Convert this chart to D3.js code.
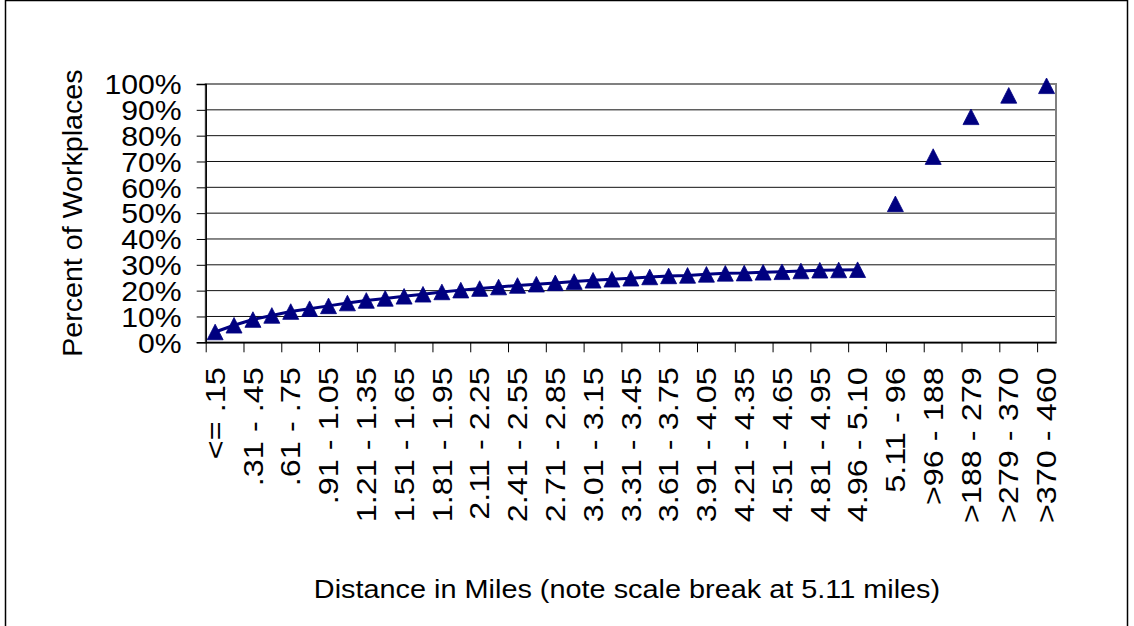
<!DOCTYPE html>
<html>
<head>
<meta charset="utf-8">
<script src="https://cdn.jsdelivr.net/npm/d3@7"></script>
<style>
  html, body { margin: 0; padding: 0; background: #fff; }
  svg { display: block; font-family: "Liberation Sans", Arial, sans-serif; }
</style>
</head>
<body>
<svg id="chart" width="1134" height="626"></svg>
<script>
// ---- data ----
const nearCategories = [
  "<= .15", ".16 - .30", ".31 - .45", ".46 - .60", ".61 - .75", ".76 - .90",
  ".91 - 1.05", "1.06 - 1.20", "1.21 - 1.35", "1.36 - 1.50", "1.51 - 1.65", "1.66 - 1.80",
  "1.81 - 1.95", "1.96 - 2.10", "2.11 - 2.25", "2.26 - 2.40", "2.41 - 2.55", "2.56 - 2.70",
  "2.71 - 2.85", "2.86 - 3.00", "3.01 - 3.15", "3.16 - 3.30", "3.31 - 3.45", "3.46 - 3.60",
  "3.61 - 3.75", "3.76 - 3.90", "3.91 - 4.05", "4.06 - 4.20", "4.21 - 4.35", "4.36 - 4.50",
  "4.51 - 4.65", "4.66 - 4.80", "4.81 - 4.95", "4.81 - 4.95 ", "4.96 - 5.10"
];
const nearValues = [
  0.040, 0.066, 0.088, 0.104, 0.119, 0.130, 0.141, 0.152, 0.162, 0.170,
  0.178, 0.186, 0.195, 0.202, 0.208, 0.214, 0.220, 0.225, 0.230, 0.235,
  0.240, 0.244, 0.248, 0.253, 0.257, 0.259, 0.263, 0.267, 0.268, 0.271,
  0.273, 0.276, 0.279, 0.280, 0.281
];
const farCategories = ["5.11 - 96", ">96 - 188", ">188 - 279", ">279 - 370", ">370 - 460"];
const farValues = [0.536, 0.719, 0.873, 0.956, 0.993];
const yTicks = [0, 0.1, 0.2, 0.3, 0.4, 0.5, 0.6, 0.7, 0.8, 0.9, 1.0];
const yTitle = "Percent of Workplaces";
const xTitle = "Distance in Miles (note scale break at 5.11 miles)";

// Category slots: near categories, then each far category preceded by an empty slot (scale break spacing)
const slots = [];
nearCategories.forEach((c, i) => slots.push({ label: c, value: nearValues[i] }));
farCategories.forEach((c, i) => { slots.push({ label: "", value: null }); slots.push({ label: c, value: farValues[i] }); });
slots.forEach((s, i) => s.i = i);

// ---- layout ----
const svg = d3.select("#chart");
const L = 205.7, R = 1056, T = 84, B = 342.3;
const font = '"Liberation Sans", Arial, sans-serif';

// outer frame
svg.append("rect").attr("x", 5.5).attr("y", 0.5).attr("width", 1122).attr("height", 700)
  .attr("fill", "none").attr("stroke", "#000").attr("stroke-width", 1.5);

const x = d3.scaleBand().domain(slots.map(d => d.i)).range([L, R]).paddingInner(0).paddingOuter(0);
const xb = d3.scaleLinear().domain([0, slots.length]).range([L, R]);
const y = d3.scaleLinear().domain([0, 1]).range([B, T]);

// gridlines
svg.append("g").selectAll("line").data(yTicks.filter(t => t > 0 && t < 1)).join("line")
  .attr("x1", L).attr("x2", R).attr("y1", d => y(d)).attr("y2", d => y(d))
  .attr("stroke", "#111").attr("stroke-width", 1);

// plot area border
svg.append("rect").attr("x", L).attr("y", T).attr("width", R - L).attr("height", B - T)
  .attr("fill", "none").attr("stroke", "#808080").attr("stroke-width", 2);

// y axis
const yAxis = svg.append("g").attr("transform", `translate(${L},0)`)
  .call(d3.axisLeft(y).tickValues(yTicks).tickFormat(d3.format(".0%")).tickSize(9).tickPadding(15));
yAxis.select(".domain").attr("stroke", "#000").attr("stroke-width", 1.5);
yAxis.selectAll(".tick line").attr("stroke", "#000");
yAxis.selectAll(".tick text").attr("font-size", 27).attr("font-family", font).attr("fill", "#000")
  .attr("x", 0).attr("dy", "0.36em")
  .attr("transform", "translate(-24,0) scale(1.12,1)");

// x axis tick marks (every two category slots)
const evenBounds = d3.range(0, slots.length, 2);
const xTickAxis = svg.append("g").attr("transform", `translate(0,${B})`)
  .call(d3.axisBottom(xb).tickValues(evenBounds).tickFormat("").tickSize(10).tickSizeOuter(0));
xTickAxis.select(".domain").attr("stroke", "#000").attr("stroke-width", 1.5);
xTickAxis.selectAll(".tick line").attr("stroke", "#000");

// x labels (every other category)
const xLabAxis = svg.append("g").attr("transform", `translate(0,${B})`)
  .call(d3.axisBottom(x).tickValues(evenBounds).tickFormat(i => slots[i].label).tickSize(0).tickPadding(0));
xLabAxis.select(".domain").remove();
xLabAxis.selectAll(".tick text")
  .attr("font-size", 27).attr("font-family", font).attr("fill", "#000")
  .attr("text-anchor", "end")
  .attr("x", 0).attr("y", 0).attr("dy", "0.36em")
  .attr("transform", "rotate(-90) translate(-25,0) scale(1.2,1)");

// line through near series
const line = d3.line().defined(d => d.value != null)
  .x(d => x(d.i) + x.bandwidth() / 2).y(d => y(d.value));
svg.append("path").datum(slots).attr("d", line)
  .attr("fill", "none").attr("stroke", "#000080").attr("stroke-width", 3);

// triangle markers
svg.append("g").selectAll("path").data(slots.filter(d => d.value != null)).join("path")
  .attr("transform", d => `translate(${x(d.i) + x.bandwidth() / 2},${y(d.value)})`)
  .attr("d", "M0,-7.8L8,7.8L-8,7.8Z")
  .attr("fill", "#000080").attr("stroke", "#000080").attr("stroke-width", 0.8);

// titles
svg.append("text").attr("transform", `translate(81.5,${(T + B) / 2})rotate(-90)scale(1.06,1)`)
  .attr("text-anchor", "middle").attr("font-size", 27).attr("font-family", font).attr("fill", "#000")
  .text(yTitle);
svg.append("text").attr("transform", "translate(627,598)scale(1.11,1)")
  .attr("text-anchor", "middle").attr("font-size", 26).attr("font-family", font).attr("fill", "#000")
  .text(xTitle);
</script>
</body>
</html>
